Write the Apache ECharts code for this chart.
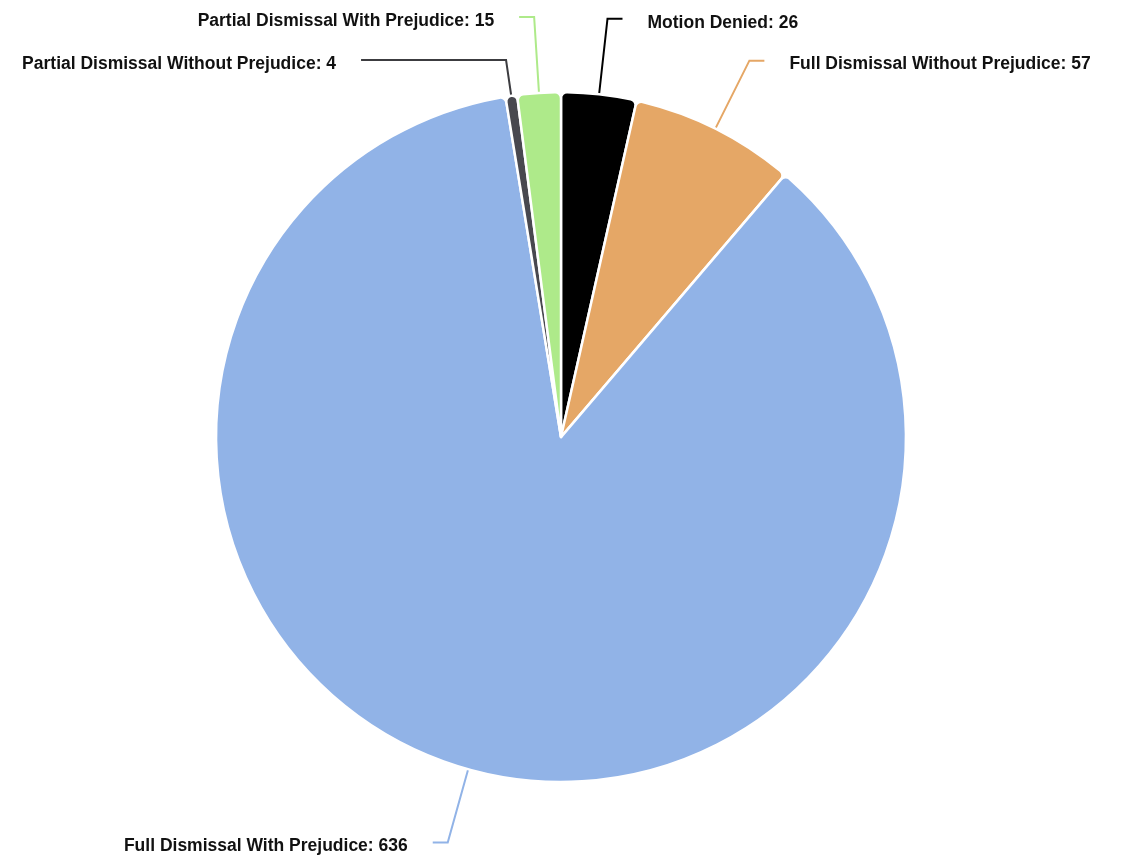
<!DOCTYPE html>
<html>
<head>
<meta charset="utf-8">
<script src="https://cdn.jsdelivr.net/npm/echarts@6/dist/echarts.min.js"></script>
<style>
html,body{margin:0;padding:0;background:#fff;}
#chart{width:1122px;height:857px;}
</style>
</head>
<body>
<div id="chart"></div>
<script>
const categories = ["Motion Denied", "Full Dismissal Without Prejudice", "Full Dismissal With Prejudice", "Partial Dismissal Without Prejudice", "Partial Dismissal With Prejudice"];
const values = [26, 57, 636, 4, 15];
const colors = ["#000000", "#e5a766", "#91b3e7", "#48484f", "#aeea8a"];

const chart = echarts.init(document.getElementById('chart'));
chart.setOption({
  animation: false,
  series: [{
    type: 'pie',
    center: ['50%', '51%'],
    radius: ['0%', '80.5%'],
    startAngle: 90,
    clockwise: true,
    data: categories.map((c, i) => {
      const d = { name: c, value: values[i], itemStyle: { color: colors[i] }, labelLine: { lineStyle: { color: colors[i] } } };
      if (i === 3) { d.labelLine.length = 36; d.labelLine.length2 = 145; d.labelLine.lineStyle.color = '#3c3c40'; }
      return d;
    }),
    itemStyle: { borderColor: '#fff', borderWidth: 2.5, borderRadius: 6 },
    label: {
      show: true,
      formatter: '{t|{b}: {c}}',
      color: '#111',
      fontWeight: 'bold',
      fontSize: 17.5,
      fontFamily: 'Liberation Sans, Arial, sans-serif',
      distanceToLabelLine: 25,
      rich: {
        t: {
          color: '#111',
          fontWeight: 'bold',
          fontSize: 17.5,
          fontFamily: 'Liberation Sans, Arial, sans-serif',
          padding: [8, 0, 0, 0]
        }
      }
    },
    labelLine: { show: true, length: 76, length2: 15, lineStyle: { width: 2 } }
  }]
});
</script>
</body>
</html>
